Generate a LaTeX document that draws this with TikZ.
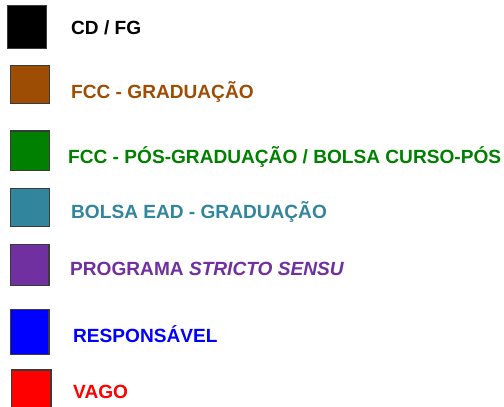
\documentclass[tikz,border=0pt]{standalone}
\usepackage{fontspec}
\setmainfont{Liberation Sans}
\definecolor{cdfg}{HTML}{000000}
\definecolor{fccgrad}{HTML}{9E4D04}
\definecolor{fccpos}{HTML}{008000}
\definecolor{ead}{HTML}{31859C}
\definecolor{prog}{HTML}{7030A0}
\definecolor{resp}{HTML}{0000FF}
\definecolor{vago}{HTML}{FF0000}
\definecolor{edge}{HTML}{3A3A3A}
\begin{document}
\begin{tikzpicture}[x=1pt,y=-1pt,
  swatch/.style={draw=edge,line width=1.3pt},
  lbl/.style={anchor=base west,inner sep=0pt,font=\fontsize{19.1}{22}\selectfont\bfseries}]
\useasboundingbox (0,0) rectangle (504,407);
\fill[white] (0,0) rectangle (504,407);
% swatches
\filldraw[swatch,fill=cdfg] (7.8,5.4) rectangle (46.6,48.3);
\filldraw[swatch,fill=fccgrad] (10.6,65.6) rectangle (49.6,103.8);
\filldraw[swatch,fill=fccpos] (10.6,131) rectangle (49.6,170.3);
\filldraw[swatch,fill=ead] (10.6,188.3) rectangle (49.6,226.8);
\filldraw[swatch,fill=prog] (10.2,244.3) rectangle (49,285.6);
\filldraw[swatch,fill=resp] (10.2,309.6) rectangle (49,354.6);
\filldraw[swatch,fill=vago] (11.8,370) rectangle (50.9,420);
% labels
\node[lbl,text=cdfg] (t1) at (71,34) {CD / FG};
\node[lbl,text=fccgrad] (t2) at (71,98) {FCC - GRADUAÇÃO};
\node[lbl,text=fccpos] (t3) at (68,163) {FCC - PÓS-GRADUAÇÃO / BOLSA CURSO-PÓS};
\node[lbl,text=ead] (t4) at (71,218) {BOLSA EAD - GRADUAÇÃO};
\node[lbl,text=prog] (t5) at (70,275) {PROGRAMA \textit{STRICTO SENSU}};
\node[lbl,text=resp] (t6) at (73,342) {RESPONSÁVEL};
\node[lbl,text=vago] (t7) at (73,398) {VAGO};
\end{tikzpicture}
\end{document}
